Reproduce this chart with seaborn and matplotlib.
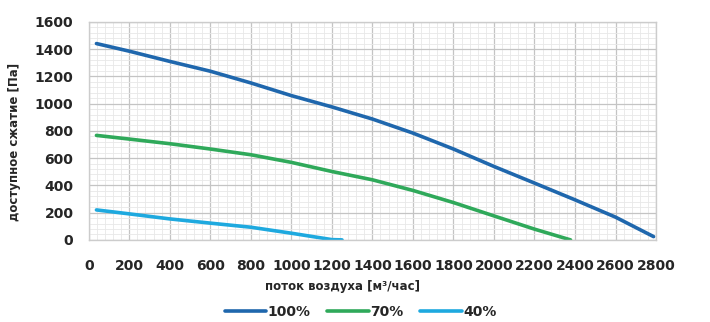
import pandas as pd
import matplotlib.pyplot as plt
import seaborn as sns
from matplotlib.ticker import MultipleLocator

# данные кривых (поток м3/час, давление Па)
flow_100 = [38, 200, 400, 600, 800, 1000, 1200, 1400, 1600, 1800, 2000, 2200, 2400, 2600, 2788]
pres_100 = [1441, 1385, 1310, 1238, 1152, 1059, 976, 887, 784, 667, 539, 417, 294, 167, 24]

flow_70 = [38, 200, 400, 600, 800, 1000, 1200, 1400, 1600, 1800, 2000, 2200, 2378]
pres_70 = [767, 740, 706, 667, 625, 569, 502, 441, 363, 274, 176, 79, 0]

flow_40 = [38, 200, 400, 600, 800, 1000, 1200, 1250]
pres_40 = [220, 191, 154, 123, 93, 49, 2, 0]

series = ["100%", "70%", "40%"]
colors = ["#1f67ad", "#2fa95a", "#1ea9df"]

x_ticks = list(range(0, 2801, 200))
y_ticks = list(range(0, 1601, 200))

frames = []
for name, fx, fy in zip(series, [flow_100, flow_70, flow_40], [pres_100, pres_70, pres_40]):
    frames.append(pd.DataFrame({"flow": fx, "pressure": fy, "speed": name}))
df = pd.concat(frames, ignore_index=True)

sns.set_style("white")
plt.rcParams["font.family"] = ["DejaVu Sans"]

fig = plt.figure(figsize=(7.1, 3.22), dpi=100)
ax = fig.add_axes([0.125, 0.255, 0.799, 0.677])

sns.lineplot(data=df, x="flow", y="pressure", hue="speed", hue_order=series,
             palette=colors, linewidth=2.6, ax=ax, legend=False, sort=False)

ax.set_xlim(0, 2800)
ax.set_ylim(0, 1600)
ax.set_xticks(x_ticks)
ax.set_yticks(y_ticks)
ax.xaxis.set_minor_locator(MultipleLocator(40))
ax.yaxis.set_minor_locator(MultipleLocator(40))
ax.grid(which="major", color="#c4c4c4", linewidth=0.9)
ax.grid(which="minor", color="#e8e8e8", linewidth=0.6)
ax.set_axisbelow(True)
for s in ax.spines.values():
    s.set_color("#cccccc")
    s.set_linewidth(1.0)

ax.tick_params(axis="both", which="both", length=0)
ax.tick_params(axis="x", pad=14, labelsize=10)
ax.tick_params(axis="y", pad=11, labelsize=10)
for lbl in ax.get_xticklabels() + ax.get_yticklabels():
    lbl.set_fontweight("heavy")

ax.set_xlabel("поток воздуха [м³/час]", fontsize=8.5, fontweight="bold")
ax.set_ylabel("доступное сжатие [Па]", fontsize=8.5, fontweight="bold")
ax.xaxis.set_label_coords(0.448, -0.185)
ax.yaxis.set_label_coords(-0.12, 0.45)

handles = [plt.Line2D([], [], color=c, linewidth=2.6) for c in colors]
fig.legend(handles, series, loc="center", bbox_to_anchor=(0.508, 0.03), ncol=3,
           frameon=False, handlelength=3.0, handletextpad=0.1, columnspacing=1.2,
           prop={"weight": "heavy", "size": 10})

plt.savefig("out.png", dpi=100)
plt.close()
